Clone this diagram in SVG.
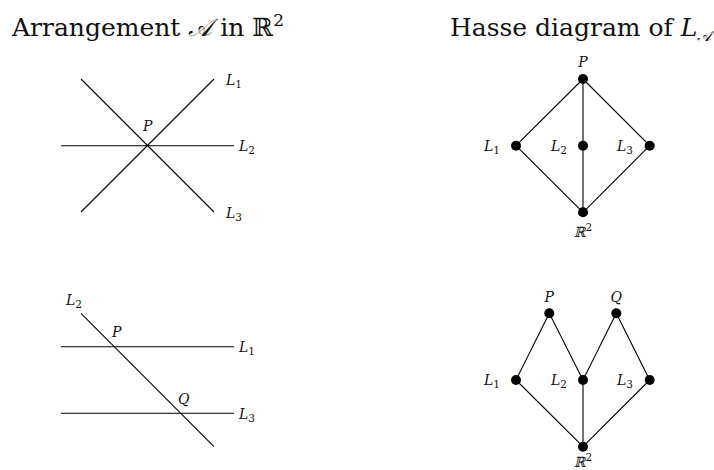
<svg xmlns="http://www.w3.org/2000/svg" width="714" height="470" viewBox="0 0 714 470">
<style>
.ttl{font-family:"DejaVu Serif","Liberation Serif",serif;font-size:25px;fill:#111}
.lb{font-family:"DejaVu Serif","Liberation Serif",serif;font-size:14px;font-style:italic;fill:#111}
.sub{font-size:10.5px;font-style:normal}
.ln{stroke:#000;stroke-width:1.1;fill:none}
.nd{fill:#000}
</style>
<rect width="714" height="470" fill="#fff"/>
<text class="ttl" x="12" y="36">Arrangement <tspan font-style="italic">𝒜</tspan> in ℝ<tspan font-size="17" dy="-10">2</tspan></text>
<text class="ttl" x="450" y="36" font-size="24">Hasse diagram of <tspan font-style="italic">L</tspan><tspan font-size="15" font-style="italic" dy="5">𝒜</tspan></text>

<g id="arr1">
<line class="ln" x1="61" y1="145.7" x2="234" y2="145.7"/>
<line class="ln" x1="81" y1="212" x2="214" y2="79"/>
<line class="ln" x1="81" y1="79" x2="214" y2="212"/>
<text class="lb" x="143" y="131">P</text>
<text class="lb" x="226" y="85">L<tspan class="sub" dy="3">1</tspan></text>
<text class="lb" x="239" y="151">L<tspan class="sub" dy="3">2</tspan></text>
<text class="lb" x="226" y="218">L<tspan class="sub" dy="3">3</tspan></text>
</g>

<g id="arr2">
<line class="ln" x1="61" y1="346.7" x2="234" y2="346.7"/>
<line class="ln" x1="61" y1="413.3" x2="234" y2="413.3"/>
<line class="ln" x1="81" y1="313.3" x2="214" y2="446.7"/>
<text class="lb" x="66" y="305">L<tspan class="sub" dy="3">2</tspan></text>
<text class="lb" x="112" y="337">P</text>
<text class="lb" x="178" y="404">Q</text>
<text class="lb" x="239" y="352">L<tspan class="sub" dy="3">1</tspan></text>
<text class="lb" x="239" y="419">L<tspan class="sub" dy="3">3</tspan></text>
</g>

<g id="hasse1-edges">
<line class="ln" x1="583" y1="79" x2="516" y2="145.7"/>
<line class="ln" x1="583" y1="79" x2="583" y2="212.3"/>
<line class="ln" x1="583" y1="79" x2="649.7" y2="145.7"/>
<line class="ln" x1="516" y1="145.7" x2="583" y2="212.3"/>
<line class="ln" x1="649.7" y1="145.7" x2="583" y2="212.3"/>
</g>
<g id="h1-P"><circle class="nd" cx="583" cy="79" r="5"/><text class="lb" x="583" y="67" text-anchor="middle">P</text></g>
<g id="h1-L1"><circle class="nd" cx="516" cy="145.7" r="5"/><text class="lb" x="484" y="151">L<tspan class="sub" dy="3">1</tspan></text></g>
<g id="h1-L2"><circle class="nd" cx="583" cy="145.7" r="5"/><text class="lb" x="551" y="151">L<tspan class="sub" dy="3">2</tspan></text></g>
<g id="h1-L3"><circle class="nd" cx="649.7" cy="145.7" r="5"/><text class="lb" x="617" y="151">L<tspan class="sub" dy="3">3</tspan></text></g>
<g id="h1-R2"><circle class="nd" cx="583" cy="212.3" r="5"/><text class="lb" x="583" y="237" text-anchor="middle" font-style="normal" font-size="16">ℝ<tspan class="sub" dy="-6">2</tspan></text></g>

<g id="hasse2-edges">
<line class="ln" x1="549.3" y1="313.3" x2="516" y2="380"/>
<line class="ln" x1="549.3" y1="313.3" x2="583" y2="380"/>
<line class="ln" x1="616.3" y1="313.3" x2="583" y2="380"/>
<line class="ln" x1="616.3" y1="313.3" x2="649.7" y2="380"/>
<line class="ln" x1="516" y1="380" x2="583" y2="446.7"/>
<line class="ln" x1="583" y1="380" x2="583" y2="446.7"/>
<line class="ln" x1="649.7" y1="380" x2="583" y2="446.7"/>
</g>
<g id="h2-P"><circle class="nd" cx="549.3" cy="313.3" r="5"/><text class="lb" x="549.3" y="302" text-anchor="middle">P</text></g>
<g id="h2-Q"><circle class="nd" cx="616.3" cy="313.3" r="5"/><text class="lb" x="616.3" y="302" text-anchor="middle">Q</text></g>
<g id="h2-L1"><circle class="nd" cx="516" cy="380" r="5"/><text class="lb" x="484" y="385">L<tspan class="sub" dy="3">1</tspan></text></g>
<g id="h2-L2"><circle class="nd" cx="583" cy="380" r="5"/><text class="lb" x="551" y="385">L<tspan class="sub" dy="3">2</tspan></text></g>
<g id="h2-L3"><circle class="nd" cx="649.7" cy="380" r="5"/><text class="lb" x="617" y="385">L<tspan class="sub" dy="3">3</tspan></text></g>
<g id="h2-R2"><circle class="nd" cx="583" cy="446.7" r="5"/><text class="lb" x="583" y="467" text-anchor="middle" font-style="normal" font-size="15">ℝ<tspan class="sub" dy="-6">2</tspan></text></g>
</svg>
